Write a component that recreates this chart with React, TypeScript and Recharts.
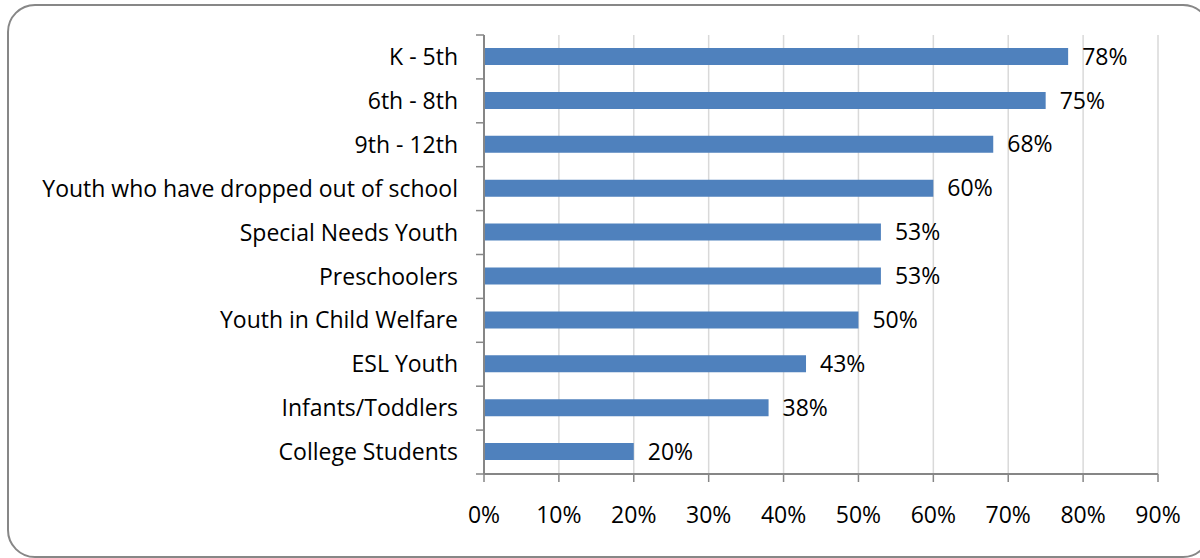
import { BarChart, Bar, XAxis, YAxis, CartesianGrid, LabelList } from 'recharts';

const categories = [
  'K - 5th',
  '6th - 8th',
  '9th - 12th',
  'Youth who have dropped out of school',
  'Special Needs Youth',
  'Preschoolers',
  'Youth in Child Welfare',
  'ESL Youth',
  'Infants/Toddlers',
  'College Students',
];
const shares = [78, 75, 68, 60, 53, 53, 50, 43, 38, 20];
const xTicks = [0, 10, 20, 30, 40, 50, 60, 70, 80, 90];

const rows = categories.map((name, i) => ({ name, value: shares[i] }));

const FONT = '"Open Sans", Lato, sans-serif';
const FS = 23;
const AXIS = '#868686';
const W = 1200;
const H = 558;
const TOP = 35;
const BOTTOM = 84;
const BAND = (H - TOP - BOTTOM) / categories.length;

function CategoryTick(props: any) {
  const { x, y, payload, index } = props;
  const last = index === categories.length - 1;
  return (
    <g>
      <text x={x} y={y} dy="0.35em" textAnchor="end" fontFamily={FONT} fontSize={FS} fill="#000">
        {payload.value}
      </text>
      <line x1={x + 18} x2={x + 26} y1={y - BAND / 2} y2={y - BAND / 2} stroke={AXIS} strokeWidth={1.5} />
      {last && (
        <line x1={x + 18} x2={x + 26} y1={y + BAND / 2} y2={y + BAND / 2} stroke={AXIS} strokeWidth={1.5} />
      )}
    </g>
  );
}

export default function App() {
  return (
    <div style={{ position: 'absolute', left: 0, top: 0, width: W, height: H, background: '#fff', overflow: 'hidden' }}>
      <div
        style={{
          position: 'absolute',
          left: 7,
          top: 4,
          width: 1200,
          height: 550,
          border: '2px solid #878787',
          borderRadius: 28,
        }}
      />
      <div style={{ position: 'absolute', left: 0, top: 0 }}>
        <BarChart
          width={W}
          height={H}
          data={rows}
          layout="vertical"
          margin={{ top: TOP, right: 42, bottom: 0, left: 8 }}
          barCategoryGap={0}
        >
          <CartesianGrid horizontal={false} stroke="#d9d9d9" strokeWidth={1.5} />
          <XAxis
            type="number"
            domain={[0, 90]}
            ticks={xTicks}
            interval={0}
            height={BOTTOM}
            tickFormatter={(v: number) => `${v}%`}
            tick={{ fontFamily: FONT, fontSize: FS, fill: '#000' }}
            tickSize={8}
            tickMargin={25}
            stroke={AXIS}
            strokeWidth={1.5}
            axisLine={{ stroke: AXIS, strokeWidth: 2 }}
            tickLine={{ stroke: AXIS, strokeWidth: 1.5 }}
          />
          <YAxis
            type="category"
            dataKey="name"
            width={476}
            interval={0}
            tickSize={8}
            tickMargin={18}
            tickLine={false}
            axisLine={{ stroke: AXIS, strokeWidth: 2 }}
            tick={<CategoryTick />}
          />
          <Bar dataKey="value" fill="#4f81bd" barSize={17} isAnimationActive={false}>
            <LabelList
              dataKey="value"
              position="right"
              offset={14}
              formatter={(v: any) => `${v}%`}
              style={{ fontFamily: FONT, fontSize: FS, fill: '#000' }}
            />
          </Bar>
        </BarChart>
      </div>
    </div>
  );
}
